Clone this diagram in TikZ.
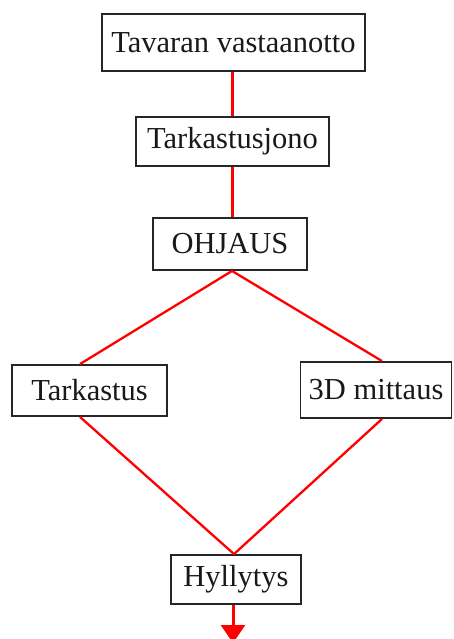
\documentclass[tikz,border=0pt]{standalone}
\usepackage{fontspec}
\setmainfont{Liberation Serif}
\usetikzlibrary{arrows.meta}
\begin{document}
\begin{tikzpicture}[x=1pt,y=-1pt,
  box/.style={draw=black!85,line width=1.9pt,fill=white,inner sep=0pt,
    font=\fontsize{30.5}{34}\selectfont,text=black!90},
  link/.style={draw=red,line width=3pt},
  diag/.style={draw=red,line width=2.3pt}]
\useasboundingbox (0,0) rectangle (453,639);
\node[box,minimum width=263pt,minimum height=57pt] (A) at (233.5,42.5) {Tavaran vastaanotto};
\node[box,minimum width=193pt,minimum height=49pt] (B) at (232.5,141.5) {Tarkastusjono};
\node[box,minimum width=154pt,minimum height=52pt] (C) at (230,244) {OHJAUS};
\node[box,minimum width=155pt,minimum height=51pt] (D) at (89.5,390.5) {Tarkastus};
\node[box,minimum width=151pt,minimum height=56pt] (E) at (376,390) {3D mittaus};
\node[box,minimum width=130pt,minimum height=49pt] (F) at (236,579.5) {Hyllytys};
\coordinate (end) at (233,643);
\draw[link] ([xshift=-1.5pt]A.south) -- ([xshift=-0.5pt]B.north);
\draw[link] ([xshift=-0.5pt]B.south) -- ([xshift=2pt]C.north);
\draw[diag] ([xshift=2pt]C.south) -- ([xshift=-9.5pt]D.north);
\draw[diag] ([xshift=2pt]C.south) -- ([xshift=6pt]E.north);
\draw[diag] ([xshift=-9.5pt]D.south) -- ([xshift=-2pt]F.north);
\draw[diag] ([xshift=6pt]E.south) -- ([xshift=-2pt]F.north);
\draw[link,-{Triangle[width=24pt,length=18pt]}] ([xshift=-3pt]F.south) -- (end);
\end{tikzpicture}
\end{document}
